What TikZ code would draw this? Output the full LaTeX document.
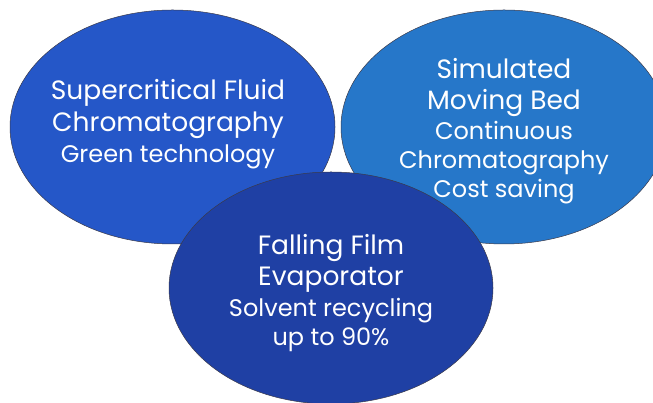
\documentclass[tikz,border=0pt]{standalone}
\usepackage{fontspec}
\setmainfont{Poppins}
\usetikzlibrary{shapes.geometric}
\definecolor{leftblue}{HTML}{2557C8}
\definecolor{rightblue}{HTML}{2677C9}
\definecolor{bottomblue}{HTML}{1F40A4}
\definecolor{rimgray}{HTML}{3A3A4A}
\tikzset{
  blob/.style={ellipse, draw=rimgray, line width=0.5pt, inner sep=0pt},
  label/.style={text=white, align=center, inner sep=0pt, font=\fontsize{26.5}{31}\selectfont},
}
\newcommand{\subline}[1]{{\fontsize{24}{29}\selectfont #1}}
\begin{document}
\begin{tikzpicture}[x=1pt,y=1pt]
\useasboundingbox (0,0) rectangle (653,403);
\node[blob, fill=leftblue, minimum width=325pt, minimum height=234pt] (L) at (172.5,276) {};
\node[blob, fill=rightblue, minimum width=326pt, minimum height=234pt] (R) at (504,276) {};
\node[blob, fill=bottomblue, minimum width=324pt, minimum height=232pt] (B) at (331,115) {};
\node[label] (Lt) at ([shift={(-4.5,3)}]L.center) {Supercritical Fluid\\[1pt]Chromatography\\\subline{Green technology}};
\node[label] (Rt) at ([shift={(0,-4.5)}]R.center) {Simulated\\Moving Bed\\[-1pt]\subline{Continuous}\\[-2pt]\subline{Chromatography}\\[-2pt]\subline{Cost saving}};
\node[label] (Bt) at ([shift={(0,-5)}]B.center) {Falling Film\\Evaporator\\\subline{Solvent recycling}\\[-2pt]\subline{up to 90\%}};
\end{tikzpicture}
\end{document}
